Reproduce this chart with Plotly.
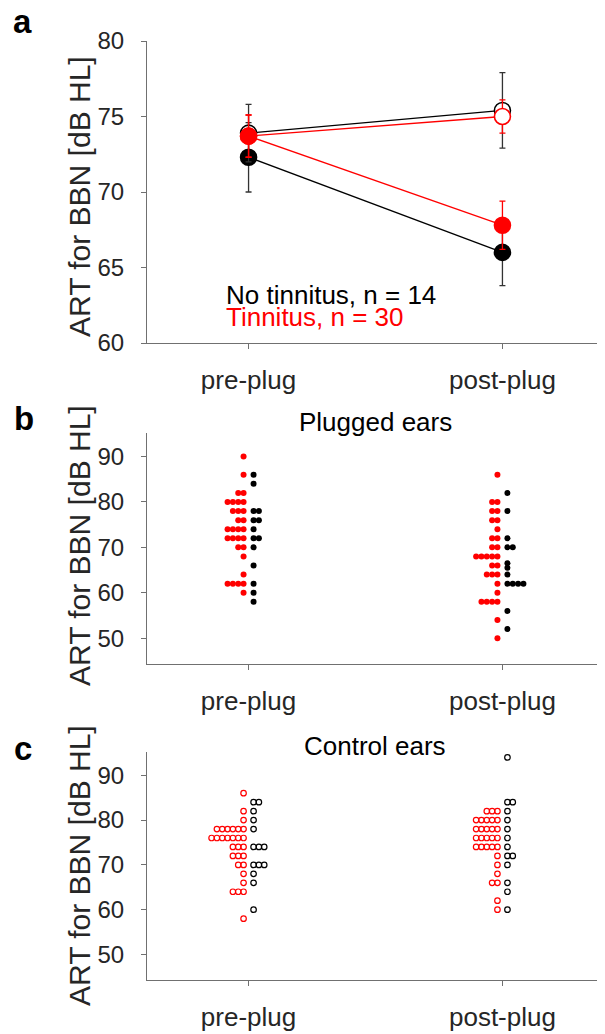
import plotly.graph_objects as go

PAGE_W, PAGE_H = 605, 1034
OFF = 8  # default body margin of the html page
W, H = PAGE_W - OFF, PAGE_H - OFF
FONT = "Liberation Sans, Arial, sans-serif"
RED = "#ff0000"
BLK = "#000000"
AXC = "#707070"
TXT = "#262626"

conditions = ["pre-plug", "post-plug"]
cond_x = [1, 2]

# Panel a: group means and SEM
mean_no_ctrl = [73.9, 75.4]
err_no_ctrl = [1.9, 2.5]
mean_no_plug = [72.3, 66.0]
err_no_plug = [2.3, 2.2]
mean_tin_ctrl = [73.7, 75.0]
err_tin_ctrl = [1.4, 1.1]
mean_tin_plug = [73.7, 67.8]
err_tin_plug = [1.4, 1.6]

# Panel b: plugged ears, individual ARTs
plug_pre_tin = [90, 86, 82, 82, 80, 80, 80, 80, 78, 78, 78, 76, 76, 74, 74, 74, 74,
                72, 72, 72, 72, 70, 70, 68, 64, 62, 62, 62, 62, 60]
plug_pre_no = [86, 84, 78, 78, 76, 76, 74, 72, 72, 70, 66, 62, 60, 58]
plug_post_tin = [86, 80, 80, 78, 78, 76, 76, 74, 72, 72, 70, 70, 68, 68, 68, 68, 68,
                 66, 66, 64, 64, 64, 62, 60, 58, 58, 58, 58, 54, 50]
plug_post_no = [82, 78, 72, 70, 70, 66.5, 65.5, 64, 62, 62, 62, 62, 56, 52]

# Panel c: control ears, individual ARTs
ctrl_pre_tin = [86, 82, 80, 78, 78, 78, 78, 78, 78, 76, 76, 76, 76, 76, 76, 76,
                74, 74, 74, 72, 72, 72, 70, 70, 68, 66, 64, 64, 64, 58]
ctrl_pre_no = [84, 84, 82, 80, 78, 74, 74, 74, 70, 70, 70, 68, 66, 60]
ctrl_post_tin = [82, 82, 82, 80, 80, 80, 80, 80, 78, 78, 78, 78, 78, 76, 76, 76, 76, 76,
                 74, 74, 74, 74, 74, 72, 70, 68, 66, 66, 62, 60]
ctrl_post_no = [94, 84, 84, 82, 80, 78, 76, 74, 72, 72, 70, 66, 64, 60]

XRANGE = [0.6, 2.4]
X0, X1 = 147, 604
unit_px = (X1 - X0) / (XRANGE[1] - XRANGE[0])
GAP = 5.0 / unit_px
STEP = 5.33 / unit_px


def swarm(values, center, side):
    counts = {}
    xs = []
    for v in values:
        k = counts.get(v, 0)
        counts[v] = k + 1
        xs.append(center + side * (GAP + k * STEP))
    return xs


def px_x(p):
    return (p - OFF) / W


def px_y(p):
    return 1 - (p - OFF) / H


fig = go.Figure()


def mean_trace(y, e, color, filled, name):
    fig.add_trace(go.Scatter(
        x=cond_x, y=y, mode="lines+markers", name=name,
        line=dict(color=color, width=1.3),
        marker=dict(size=16, color=color if filled else "white",
                    line=dict(color=color, width=1.6)),
        error_y=dict(type="data", array=e, visible=True,
                     color=("#333333" if color == BLK else color),
                     thickness=1.3, width=3),
        xaxis="x", yaxis="y", showlegend=False))


mean_trace(mean_no_plug, err_no_plug, BLK, True, "No tinnitus plugged")
mean_trace(mean_no_ctrl, err_no_ctrl, BLK, False, "No tinnitus control")
mean_trace(mean_tin_ctrl, err_tin_ctrl, RED, False, "Tinnitus control")
mean_trace(mean_tin_plug, err_tin_plug, RED, True, "Tinnitus plugged")


def dots(vals, center, side, color, filled, xa, ya):
    if filled:
        mk = dict(size=6, color=color, symbol="circle", line=dict(width=0))
    else:
        mk = dict(size=5.5, color=color, symbol="circle-open", line=dict(width=1.2, color=color))
    fig.add_trace(go.Scatter(
        x=swarm(vals, center, side), y=vals, mode="markers", marker=mk,
        xaxis=xa, yaxis=ya, showlegend=False))


dots(plug_pre_tin, cond_x[0], -1, RED, True, "x2", "y2")
dots(plug_pre_no, cond_x[0], 1, BLK, True, "x2", "y2")
dots(plug_post_tin, cond_x[1], -1, RED, True, "x2", "y2")
dots(plug_post_no, cond_x[1], 1, BLK, True, "x2", "y2")

dots(ctrl_pre_tin, cond_x[0], -1, RED, False, "x3", "y3")
dots(ctrl_pre_no, cond_x[0], 1, BLK, False, "x3", "y3")
dots(ctrl_post_tin, cond_x[1], -1, RED, False, "x3", "y3")
dots(ctrl_post_no, cond_x[1], 1, BLK, False, "x3", "y3")

xdom = [px_x(X0), min(1.0, px_x(X1))]
ydom_a = [px_y(343), px_y(41)]
ydom_b = [px_y(664), px_y(433)]
ydom_c = [px_y(980), px_y(752)]


def xaxis_cfg(anchor):
    return dict(domain=xdom, range=XRANGE, anchor=anchor, tickvals=cond_x, ticktext=conditions,
                showline=True, linecolor=AXC, linewidth=1.2, ticks="outside", ticklen=5,
                tickcolor=AXC, tickwidth=1.2, showgrid=False, zeroline=False, automargin=False,
                tickfont=dict(family=FONT, size=26, color=TXT), ticklabelstandoff=9)


def yaxis_cfg(anchor, dom, rng, tv):
    return dict(domain=dom, range=rng, anchor=anchor, tickvals=tv,
                showline=True, linecolor=AXC, linewidth=1.2, ticks="outside", ticklen=5,
                tickcolor=AXC, tickwidth=1.2, showgrid=False, zeroline=False, automargin=False,
                tickfont=dict(family=FONT, size=24, color=TXT), ticklabelstandoff=12)


annotations = []


def ann(text, x, y, size, color=TXT, bold=False, xanchor="center", angle=0):
    annotations.append(dict(
        text=("<b>%s</b>" % text) if bold else text, x=px_x(x), y=px_y(y),
        xref="paper", yref="paper", showarrow=False, xanchor=xanchor, yanchor="middle",
        textangle=angle, font=dict(family=FONT, size=size, color=color)))


ann("a", 22, 22, 33, BLK, bold=True)
ann("b", 24, 418, 33, BLK, bold=True)
ann("c", 23, 748, 33, BLK, bold=True)
ann("ART for BBN [dB HL]", 79, 197, 30, TXT, angle=-90)
ann("ART for BBN [dB HL]", 79, 546, 30, TXT, angle=-90)
ann("ART for BBN [dB HL]", 79, 866, 30, TXT, angle=-90)
ann("Plugged ears", 375, 422, 26, BLK)
ann("Control ears", 375, 746, 26, BLK)
ann("No tinnitus, n = 14", 224, 295, 26, BLK, xanchor="left")
ann("Tinnitus, n = 30", 224, 317, 26, RED, xanchor="left")

fig.update_layout(
    template="none",
    width=W, height=H, margin=dict(l=0, r=0, t=0, b=0, pad=0),
    paper_bgcolor="white", plot_bgcolor="white",
    font=dict(family=FONT, color=TXT),
    xaxis=xaxis_cfg("y"), yaxis=yaxis_cfg("x", ydom_a, [60, 80], [60, 65, 70, 75, 80]),
    xaxis2=xaxis_cfg("y2"), yaxis2=yaxis_cfg("x2", ydom_b, [44.3, 95.2], [50, 60, 70, 80, 90]),
    xaxis3=xaxis_cfg("y3"), yaxis3=yaxis_cfg("x3", ydom_c, [44.3, 95.2], [50, 60, 70, 80, 90]),
    annotations=annotations, showlegend=False,
)

fig.write_html("out.html")
